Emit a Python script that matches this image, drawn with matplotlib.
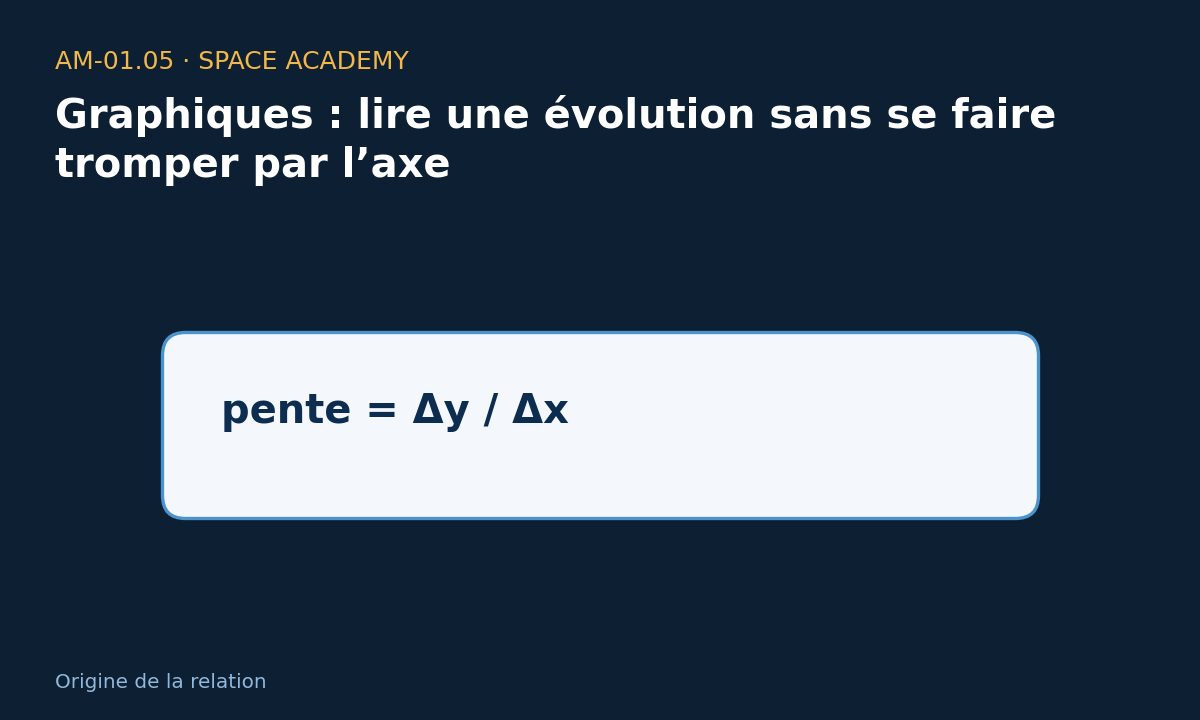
import matplotlib
matplotlib.use("Agg")
import matplotlib.pyplot as plt
from matplotlib.patches import FancyBboxPatch

W, H = 1200, 720
kicker = "AM-01.05 · SPACE ACADEMY"
title_lines = ["Graphiques : lire une évolution sans se faire", "tromper par l’axe"]
formula = "pente = Δy / Δx"
footer = "Origine de la relation"

BG = "#0c1f33"
fig = plt.figure(figsize=(12, 7.2), dpi=100, facecolor=BG)
ax = fig.add_axes([0, 0, 1, 1])
ax.set_xlim(0, W)
ax.set_ylim(H, 0)
ax.axis("off")
ax.set_facecolor(BG)

ax.text(55, 69, kicker, color="#f2b84b", fontsize=18, ha="left", va="baseline",
        family="DejaVu Sans")
ax.text(55, 128, title_lines[0], color="white", fontsize=28.8, fontweight="bold",
        ha="left", va="baseline", family="DejaVu Sans")
ax.text(55, 177, title_lines[1], color="white", fontsize=28.8, fontweight="bold",
        ha="left", va="baseline", family="DejaVu Sans")

box = FancyBboxPatch((162.5, 332.5), 876, 186,
                     boxstyle="round,pad=0,rounding_size=23",
                     facecolor="#f4f7fc", edgecolor="#4a93cc", linewidth=2.4)
ax.add_patch(box)

ax.text(221, 423, formula, color="#0c2d4f", fontsize=28.8, fontweight="bold",
        ha="left", va="baseline", family="DejaVu Sans")

ax.text(55, 688, footer, color="#93b8d9", fontsize=14.4, ha="left", va="baseline",
        family="DejaVu Sans")

fig.savefig("out.png", dpi=100, facecolor=BG)
